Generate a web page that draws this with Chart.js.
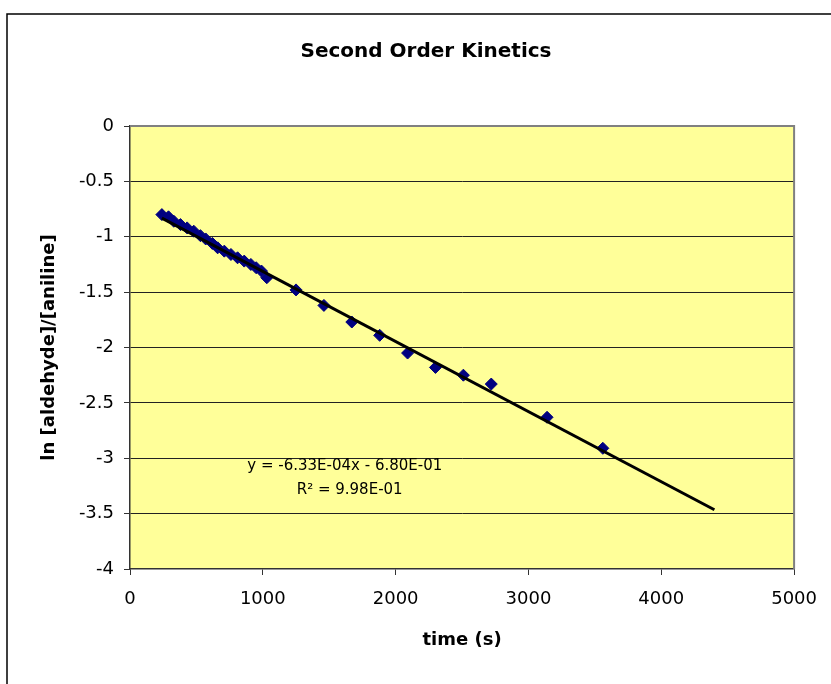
<!DOCTYPE html>
<html>
<head>
<meta charset="utf-8">
<title>Second Order Kinetics</title>
<script src="https://cdn.jsdelivr.net/npm/chart.js@4/dist/chart.umd.min.js"></script>
<style>
  html, body { margin: 0; padding: 0; background: #fff; }
  #wrap { width: 831px; height: 684px; position: relative; }
</style>
</head>
<body>
<div id="wrap"><canvas id="kinetics"></canvas></div>
<script>
const timeS = [240, 290, 330, 380, 430, 480, 530, 570, 620, 660, 710, 760, 810, 860, 910, 950, 990, 1030,
  1250, 1460, 1670, 1880, 2090, 2300, 2510, 2720, 3140, 3560];
const lnRatio = [-0.80, -0.82, -0.86, -0.89, -0.92, -0.95, -0.99, -1.02, -1.06, -1.10, -1.13, -1.16, -1.19, -1.22, -1.25, -1.28, -1.31, -1.37,
  -1.48, -1.62, -1.77, -1.89, -2.05, -2.18, -2.25, -2.33, -2.63, -2.91];

// linear trendline end points
const trendX = [240, 4400];
const trendY = [-0.832, -3.465];

const xTicks = [0, 1000, 2000, 3000, 4000, 5000];
const yTicks = [0, -0.5, -1, -1.5, -2, -2.5, -3, -3.5, -4];

const chartTitle = 'Second Order Kinetics';
const fitLabel = 'y = -6.33E-04x - 6.80E-01';
const r2Label = 'R\u00B2 = 9.98E-01';

const FONT = '"DejaVu Sans", Arial, sans-serif';

const frame = {
  id: 'frame',
  beforeDraw(chart) {
    const { ctx, chartArea: a } = chart;
    ctx.save();
    ctx.fillStyle = '#ffffff';
    ctx.fillRect(0, 0, chart.width, chart.height);
    ctx.strokeStyle = '#000000';
    ctx.lineWidth = 1.5;
    ctx.beginPath();
    ctx.moveTo(7, chart.height + 5);
    ctx.lineTo(7, 14);
    ctx.lineTo(chart.width + 5, 14);
    ctx.stroke();
    ctx.fillStyle = '#FFFF99';
    ctx.fillRect(a.left, a.top, a.right - a.left, a.bottom - a.top);
    ctx.fillStyle = '#000000';
    ctx.font = 'bold 20px ' + FONT;
    ctx.textAlign = 'center';
    ctx.textBaseline = 'middle';
    ctx.fillText(chartTitle, 426, 52);
    ctx.restore();
  },
  afterDatasetsDraw(chart) {
    const { ctx, chartArea: a, scales } = chart;
    ctx.save();
    ctx.strokeStyle = '#808080';
    ctx.lineWidth = 2;
    ctx.beginPath();
    ctx.moveTo(a.left, a.top);
    ctx.lineTo(a.right, a.top);
    ctx.lineTo(a.right, a.bottom);
    ctx.stroke();
    ctx.fillStyle = '#000000';
    ctx.font = '15px ' + FONT;
    ctx.textAlign = 'center';
    ctx.textBaseline = 'middle';
    ctx.fillText(fitLabel, scales.x.getPixelForValue(1617), scales.y.getPixelForValue(-3.07));
    ctx.fillText(r2Label, scales.x.getPixelForValue(1654), scales.y.getPixelForValue(-3.29));
    ctx.restore();
  }
};

new Chart(document.getElementById('kinetics'), {
  type: 'scatter',
  data: {
    datasets: [
      {
        label: 'Linear fit',
        data: trendX.map((x, i) => ({ x: x, y: trendY[i] })),
        showLine: true,
        borderColor: '#000000',
        borderWidth: 3,
        pointRadius: 0,
        order: 0,
      },
      {
        label: 'ln [aldehyde]/[aniline]',
        data: timeS.map((t, i) => ({ x: t, y: lnRatio[i] })),
        pointStyle: 'rectRot',
        pointRadius: 6,
        backgroundColor: '#000080',
        borderColor: '#000080',
        borderWidth: 1,
        order: 1,
      }
    ]
  },
  options: {
    responsive: true,
    maintainAspectRatio: false,
    animation: false,
    layout: {
      padding: { left: 0, top: 126, right: 36, bottom: 0 }
    },
    scales: {
      x: {
        type: 'linear',
        min: 0,
        max: 5000,
        afterBuildTicks: (axis) => { axis.ticks = xTicks.map(v => ({ value: v })); },
        afterFit: (axis) => { axis.height = 115; },
        grid: { drawOnChartArea: false, color: '#333333', tickLength: 6 },
        border: { color: '#333333', width: 1.5 },
        ticks: {
          color: '#000000',
          font: { size: 18, family: FONT },
          padding: 14,
          maxRotation: 0,
          callback: (v) => String(v)
        },
        title: {
          display: true,
          text: 'time (s)',
          color: '#000000',
          font: { size: 18, weight: 'bold', family: FONT },
          padding: { top: 0, bottom: 33 }
        }
      },
      y: {
        type: 'linear',
        min: -4,
        max: 0,
        afterBuildTicks: (axis) => { axis.ticks = yTicks.map(v => ({ value: v })); },
        afterFit: (axis) => { axis.width = 130; },
        grid: {
          color: (c) => (c.tick.value === 0 || c.tick.value === -4) ? 'rgba(0,0,0,0)' : '#222222',
          tickColor: '#333333',
          lineWidth: 1,
          tickLength: 6
        },
        border: { color: '#333333', width: 1.5 },
        ticks: {
          color: '#000000',
          font: { size: 18, family: FONT },
          padding: 10,
          callback: (v) => String(v)
        },
        title: {
          display: true,
          text: 'ln [aldehyde]/[aniline]',
          color: '#000000',
          font: { size: 18, weight: 'bold', family: FONT },
          padding: { top: 39, bottom: 0 }
        }
      }
    },
    plugins: {
      legend: { display: false },
      tooltip: { enabled: false },
      title: { display: false }
    }
  },
  plugins: [frame]
});
</script>
</body>
</html>
